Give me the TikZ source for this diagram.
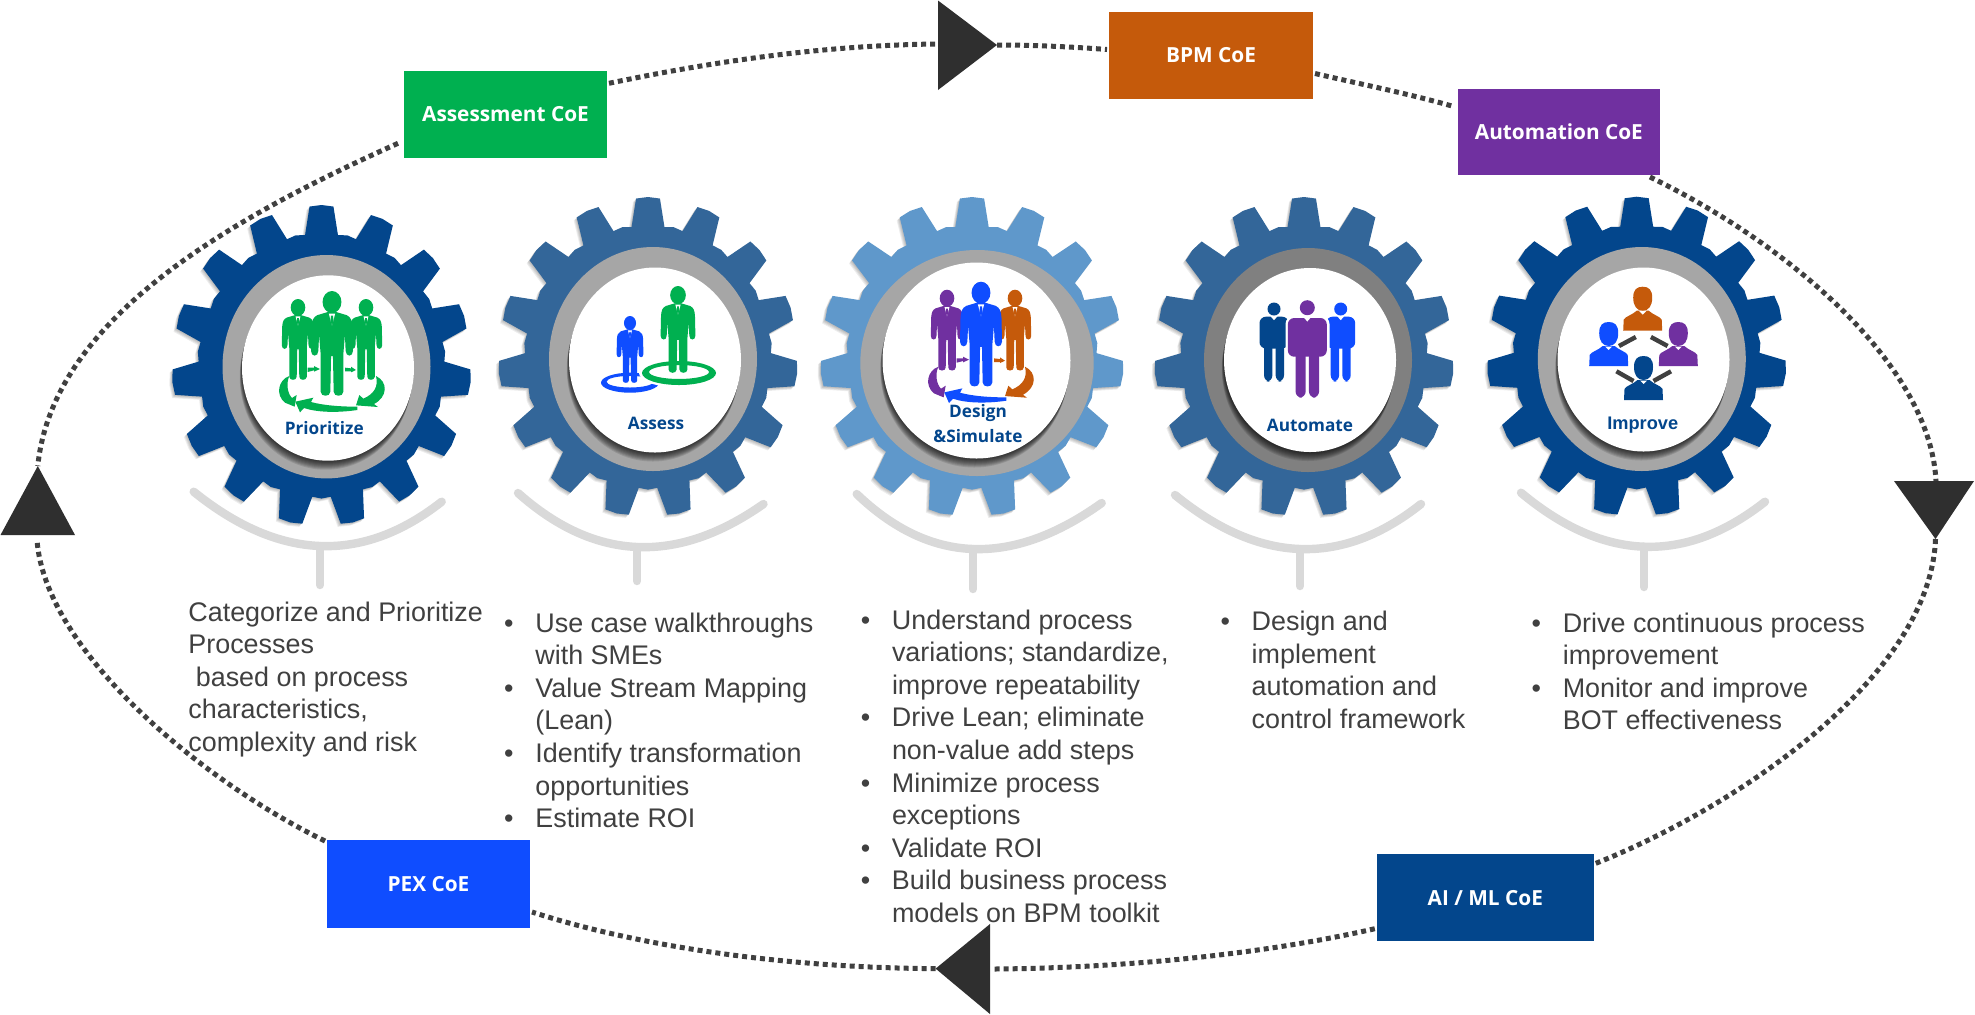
\documentclass[tikz,border=0pt]{standalone}
\usepackage{fontspec}
\setmainfont{Liberation Sans}
\newfontfamily\labfont{Open Sans}
\usetikzlibrary{calc}
\definecolor{navy}{HTML}{03468C}
\definecolor{steel}{HTML}{336699}
\definecolor{sky}{HTML}{5F98CB}
\definecolor{cgreen}{HTML}{00B050}
\definecolor{cblue}{HTML}{0F4DFF}
\definecolor{corange}{HTML}{C55A0B}
\definecolor{cpurple}{HTML}{7030A0}
\definecolor{txt}{HTML}{404040}
\definecolor{tri}{HTML}{2F2F2F}
\definecolor{bowlgrey}{HTML}{D9D9D9}
\tikzset{
  coebox/.style={inner sep=0pt,outer sep=0pt,fill=#1,text=white,font=\labfont\bfseries\fontsize{10.4}{12}\selectfont},
  hublabel/.style={inner sep=0pt,text=navy,align=center,font=\labfont\bfseries\fontsize{8.6}{12.5}\selectfont},
  bodytext/.style={inner sep=0pt,anchor=base west,text=txt},
  dotline/.style={draw=txt,line width=2.5pt,dash pattern=on 2.5pt off 2pt},
  bowlline/.style={draw=bowlgrey,line width=4.2pt,line cap=round},
  tripoly/.style={fill=tri}
}
% gear with 15 teeth; first tooth on top (y axis points down)
\newcommand{\gearoutline}{
  ({-90-7.7}:132)
  \foreach \i in {0,...,14}{
    -- ({-90+24*\i-7.7}:132) -- ({-90+24*\i-4.6}:160) -- ({-90+24*\i}:161) -- ({-90+24*\i+4.6}:160)
    -- ({-90+24*\i+7.7}:132) -- ({-90+24*\i+12}:133.5)
  } -- cycle}
\newcommand{\gearbody}[5]{
  \begin{scope}[shift={(#1,#2)},xscale={#3/160},yscale={#4/160}]
    \foreach \k in {1,2,3,4}{
      \fill[black,opacity=.07,shift={(-\k*0.8,\k*0.8)}] \gearoutline;
    }
    \fill[#5] \gearoutline;
  \end{scope}}
\newcommand{\hubring}[5]{
  \fill[#5] (#1,#2) ellipse [x radius=#3,y radius=#4];}
\newcommand{\hubwhite}[4]{
  \foreach \k in {1,...,9}{
    \fill[black,opacity=.11] ({#1-\k*0.25},{#2+\k}) ellipse [x radius=#3,y radius=#4];
  }
  \fill[white] (#1,#2) ellipse [x radius=#3,y radius=#4];}
\newcommand{\bowl}[7]{
  % left x,y; right x,y; bottom x,y; stem end y
  \pgfmathsetmacro{\qx}{2*#5-(#1+#3)/2}
  \pgfmathsetmacro{\qy}{2*#6-(#2+#4)/2}
  \draw[bowlline] (#1,#2) .. controls ({#1+2/3*(\qx-#1)},{#2+2/3*(\qy-#2)}) and ({#3+2/3*(\qx-#3)},{#4+2/3*(\qy-#4)}) .. (#3,#4);
  \draw[bowlline] (#5,#6) -- (#5,#7);}
\newcommand{\suitman}[4]{
  \begin{scope}[shift={(#1,#2)},scale={#3/100}]
    \fill[#4] (0,10.5) ellipse [x radius=9,y radius=10.5];
    \fill[#4] (-4,20) -- (-14,23) .. controls (-18,25) and (-19,28) .. (-19.5,34) -- (-20,57)
      .. controls (-20,63) and (-13,63) .. (-13,57) -- (-12.3,42) -- (-10.8,60) -- (-10.8,96)
      .. controls (-10.8,101) and (-1.6,101) .. (-1.6,96) -- (-0.9,62) -- (0.9,62) -- (1.6,96)
      .. controls (1.6,101) and (10.8,101) .. (10.8,96) -- (10.8,60) -- (12.3,42) -- (13,57)
      .. controls (13,63) and (20,63) .. (20,57) -- (19.5,34) .. controls (19,28) and (18,25) .. (14,23)
      -- (4,20) -- cycle;
    \fill[white] (-3,21.5) -- (0,33) -- (3,21.5) -- cycle;
    \fill[#4] (-1,23.5) -- (1,23.5) -- (1.4,28) -- (0,34) -- (-1.4,28) -- cycle;
  \end{scope}}
% team icon with rotating arrows; coordinates in the 3x zoom of the reference
\newcommand{\teamicon}[5]{
  \suitman{#1-34}{#2-97}{81}{#3}
  \suitman{#1+34}{#2-97}{81}{#5}
  \suitman{#1}{#2-105}{105}{#4}
  \begin{scope}[shift={(#1,#2)},scale={1/3},shift={(-546,-648)}]
    \fill[#3] (418,588) .. controls (384,600) and (376,645) .. (405,668) -- (434,680) -- (440,645) -- (426,654)
       .. controls (412,640) and (408,610) .. (418,588) -- cycle;
    \fill[#5] (678,588) .. controls (714,605) and (714,650) .. (672,672) -- (684,681) -- (618,676) -- (628,645) -- (640,656)
       .. controls (672,642) and (686,620) .. (678,588) -- cycle;
    \fill[#4] (622,690) .. controls (560,699) and (500,697) .. (462,684) -- (450,697) -- (436,665) -- (490,653) -- (483,666)
       .. controls (520,676) and (570,680) .. (622,680) -- cycle;
    \fill[#3] (473,563) -- (492,563) -- (492,558) -- (510,567) -- (492,575) -- (492,571) -- (473,576) -- cycle;
    \fill[#5] (585,563) -- (603,565) -- (603,560) -- (618,570) -- (603,577) -- (603,574) -- (585,574) -- cycle;
  \end{scope}}
\newcommand{\ringellipse}[5]{
  \fill[#5,even odd rule] (#1,#2) ellipse [x radius=#3,y radius=#4]
     (#1,{#2-1}) ellipse [x radius={#3*0.81},y radius={#4*0.58}];}
\newcommand{\blockman}[9]{
  % cx, head y, head r, half body, top y, body bottom y, half legs, feet y, colour
  \fill[#9] (#1,#2) circle [radius=#3];
  \fill[#9,rounded corners=3.2pt] ({#1-#4},#6) -- ({#1-#4},#5) -- ({#1+#4},#5) -- ({#1+#4},#6) -- cycle;
  \fill[#9,rounded corners=3.2pt] ({#1-#7},{#6-6}) -- ({#1-#7},#8) -- ({#1-1.6},#8) -- ({#1-1.6},{#6-6}) -- cycle;
  \fill[#9,rounded corners=3.2pt] ({#1+1.6},{#6-6}) -- ({#1+1.6},#8) -- ({#1+#7},#8) -- ({#1+#7},{#6-6}) -- cycle;
  \fill[white] ({#1-3.5},{#5-0.5}) -- (#1,{#5+3.5}) -- ({#1+3.5},{#5-0.5}) -- cycle;}
\newcommand{\bust}[4]{
  \begin{scope}[shift={(#1,#2)},scale={#3/44}]
    \fill[#4] (-9.5,11) .. controls (-9.5,3) and (-6,0) .. (0,0) .. controls (6,0) and (9.5,3) .. (9.5,11)
      .. controls (9.5,19) and (6,24) .. (0,24) .. controls (-6,24) and (-9.5,19) .. (-9.5,11) -- cycle;
    \fill[#4] (-19.5,44) -- (-19,33) .. controls (-18,30) and (-10,28) .. (-6,24) -- (6,24)
      .. controls (10,28) and (18,30) .. (19,33) -- (19.5,44) -- cycle;
    \fill[white] (-3.5,24.5) -- (0,28) -- (3.5,24.5) -- cycle;
  \end{scope}}
\newcommand{\bul}{\makebox[15pt][l]{\hspace{-0.6pt}•}}
\newcommand{\ind}{\hspace{15pt}}
\begin{document}
\begin{tikzpicture}[x=0.5pt,y=-0.5pt]
\useasboundingbox (0,0) rectangle (1975,1014);
\fill[white] (0,0) rectangle (1975,1014);

% boxes
\node[coebox=cgreen,minimum width=101.5pt,minimum height=43.4pt] (coeAssess) at (505.5,114.3) {Assessment CoE};
\node[coebox=corange,minimum width=102pt,minimum height=43.5pt] (coeBPM) at (1211,55.5) {BPM CoE};
\node[coebox=cpurple,minimum width=101pt,minimum height=43pt] (coeAuto) at (1558.9,132) {Automation CoE};
\node[coebox=cblue,minimum width=101.5pt,minimum height=44pt] (coePEX) at (428.5,884) {PEX CoE};
\node[coebox=navy,minimum width=108.5pt,minimum height=43.4pt] (coeAI) at (1485.3,897.7) {AI / ML CoE};

% triangle points
\coordinate (topIn) at (938,44);
\coordinate (topOut) at (997,45);
\coordinate (rightIn) at (1936,481);
\coordinate (rightOut) at (1935.5,539);
\coordinate (botIn) at (994,969);
\coordinate (botOut) at (935.6,968.6);
\coordinate (leftIn) at (37,540);
\coordinate (leftOut) at (37.8,466);

% dotted ring
\draw[dotline] ($(coeAssess.west)+(-6,29)$) .. controls (215,225) and (52,325) .. (leftOut);
\draw[dotline] ($(coeAssess.east)+(2,-31)$) .. controls (720,60) and (830,45) .. (topIn);
\draw[dotline] (topOut) .. controls (1035,45) and (1075,47) .. ($(coeBPM.west)+(-2,-6)$);
\draw[dotline] ($(coeBPM.east)+(2,18)$) .. controls (1360,84) and (1410,94) .. ($(coeAuto.west)+(-6,-26)$);
\draw[dotline] ($(coeAuto.south east)+(-10,2)$) .. controls (1790,245) and (1930,365) .. (rightIn);
\draw[dotline] (rightOut) .. controls (1930,680) and (1730,810) .. ($(coeAI.north east)+(2,9)$);
\draw[dotline] ($(coeAI.west)+(-2,31)$) .. controls (1260,955) and (1120,968) .. (botIn);
\draw[dotline] (botOut) .. controls (800,968) and (650,950) .. ($(coePEX.east)+(2,28)$);
\draw[dotline] ($(coePEX.north west)+(-2,1)$) .. controls (200,780) and (45,650) .. (leftIn);

% triangles
\fill[tripoly] (938,0.5) -- (topOut) -- (938,90) -- cycle;
\fill[tripoly] (1894,481) -- (1974,481) -- (rightOut) -- cycle;
\fill[tripoly] (990,924) -- (botOut) -- (990,1014) -- cycle;
\fill[tripoly] (0.5,535) -- (leftOut) -- (75,535) -- cycle;

% gears
\gearbody{321.5}{365.5}{149}{159.5}{navy}
\hubring{326.5}{366.7}{104}{111.7}{black!35}
\hubwhite{328}{368}{86}{92.7}
\gearbody{648}{357}{149}{159}{steel}
\hubring{653}{359}{104}{112}{black!35}
\hubwhite{655}{360}{86}{92.5}
\gearbody{972}{357}{151}{159}{sky}
\hubring{977}{363}{116.7}{113}{black!35}
\hubwhite{976.5}{360.5}{94}{98}
\gearbody{1304}{357}{149}{159}{steel}
\hubring{1308}{360}{104}{112}{black!50}
\hubwhite{1310}{360}{86}{92}
\gearbody{1636.7}{356.7}{149}{159}{navy}
\hubring{1641.8}{359}{104}{112}{black!35}
\hubwhite{1643.5}{359.5}{86}{92}

% bowls
\bowl{193.7}{491.7}{441.7}{501.7}{320}{546}{585}
\bowl{518}{493}{763.5}{504}{637}{547}{581}
\bowl{856.7}{494}{1101.7}{503}{973}{549}{589}
\bowl{1175}{495}{1421}{504}{1300}{549}{586}
\bowl{1521}{492.7}{1765}{501.7}{1644}{546.7}{587}

% icons
\teamicon{332}{396}{cgreen}{cgreen}{cgreen}
\teamicon{981}{386.7}{cpurple}{cblue}{corange}
% assess icon
\ringellipse{630}{382.7}{29}{10}{cblue}
\suitman{630}{316}{67}{cblue}
\fill[white] (679,373) ellipse [x radius=40,y radius=14.5];
\ringellipse{679}{373}{37}{12}{cgreen}
\suitman{678}{286}{87}{cgreen}
% automate icon
\blockman{1274}{309}{6.5}{14.5}{316.7}{348.5}{10}{381.7}{navy}
\blockman{1340.7}{309}{6.5}{14.5}{316.7}{348.5}{10}{381.7}{cblue}
\fill[white,rounded corners=4pt] (1285.5,316) rectangle (1329.5,358);
\blockman{1307.3}{307.7}{7.5}{19.5}{318}{356.7}{11.8}{397.7}{cpurple}
% improve icon
\bust{1642.7}{286.7}{44}{corange}
\bust{1608.7}{322}{44}{cblue}
\bust{1678.3}{322}{44}{cpurple}
\bust{1643.5}{356}{44}{navy}
\draw[txt,line width=2.2pt] (1619,346) -- (1635.8,337);
\draw[txt,line width=2.2pt] (1650.9,337) -- (1667.6,346);
\draw[txt,line width=2.2pt] (1616.4,371.3) -- (1633.5,381);
\draw[txt,line width=2.2pt] (1671,371.3) -- (1653.5,381);

% hub labels
\node[hublabel] (lPrior) at (324.3,428.3) {Prioritize};
\node[hublabel] (lAssess) at (656,423) {Assess};
\node[hublabel] (lDesign) at (978,424) {Design\\\&Simulate};
\node[hublabel] (lAuto) at (1310,425.7) {Automate};
\node[hublabel,font=\bfseries\fontsize{9.1}{12}\selectfont] (lImpr) at (1642.7,425) {Improve};

% body text
\newcommand{\bodyfont}{\fontsize{13.45}{16.3}\selectfont}
\node[bodytext] (t1) at (188,621) {\bodyfont\begin{tabular}[t]{@{}l@{}}
Categorize and Prioritize\\
Processes\\
\ based on process\\
characteristics,\\
complexity and risk
\end{tabular}};
\node[bodytext] (t2) at (505,632) {\bodyfont\begin{tabular}[t]{@{}l@{}}
\bul Use case walkthroughs\\
\ind with SMEs\\
\bul Value Stream Mapping\\
\ind (Lean)\\
\bul Identify transformation\\
\ind opportunities\\
\bul Estimate ROI
\end{tabular}};
\node[bodytext] (t3) at (861.6,629) {\bodyfont\begin{tabular}[t]{@{}l@{}}
\bul Understand process\\
\ind variations; standardize,\\
\ind improve repeatability\\
\bul Drive Lean; eliminate\\
\ind non-value add steps\\
\bul Minimize process\\
\ind exceptions\\
\bul Validate ROI\\
\bul Build business process\\
\ind models on BPM toolkit
\end{tabular}};
\node[bodytext] (t4) at (1221.3,630.5) {\bodyfont\begin{tabular}[t]{@{}l@{}}
\bul Design and\\
\ind implement\\
\ind automation and\\
\ind control framework
\end{tabular}};
\node[bodytext] (t5) at (1532.4,632) {\bodyfont\begin{tabular}[t]{@{}l@{}}
\bul Drive continuous process\\
\ind improvement\\
\bul Monitor and improve\\
\ind BOT effectiveness
\end{tabular}};
\end{tikzpicture}
\end{document}
